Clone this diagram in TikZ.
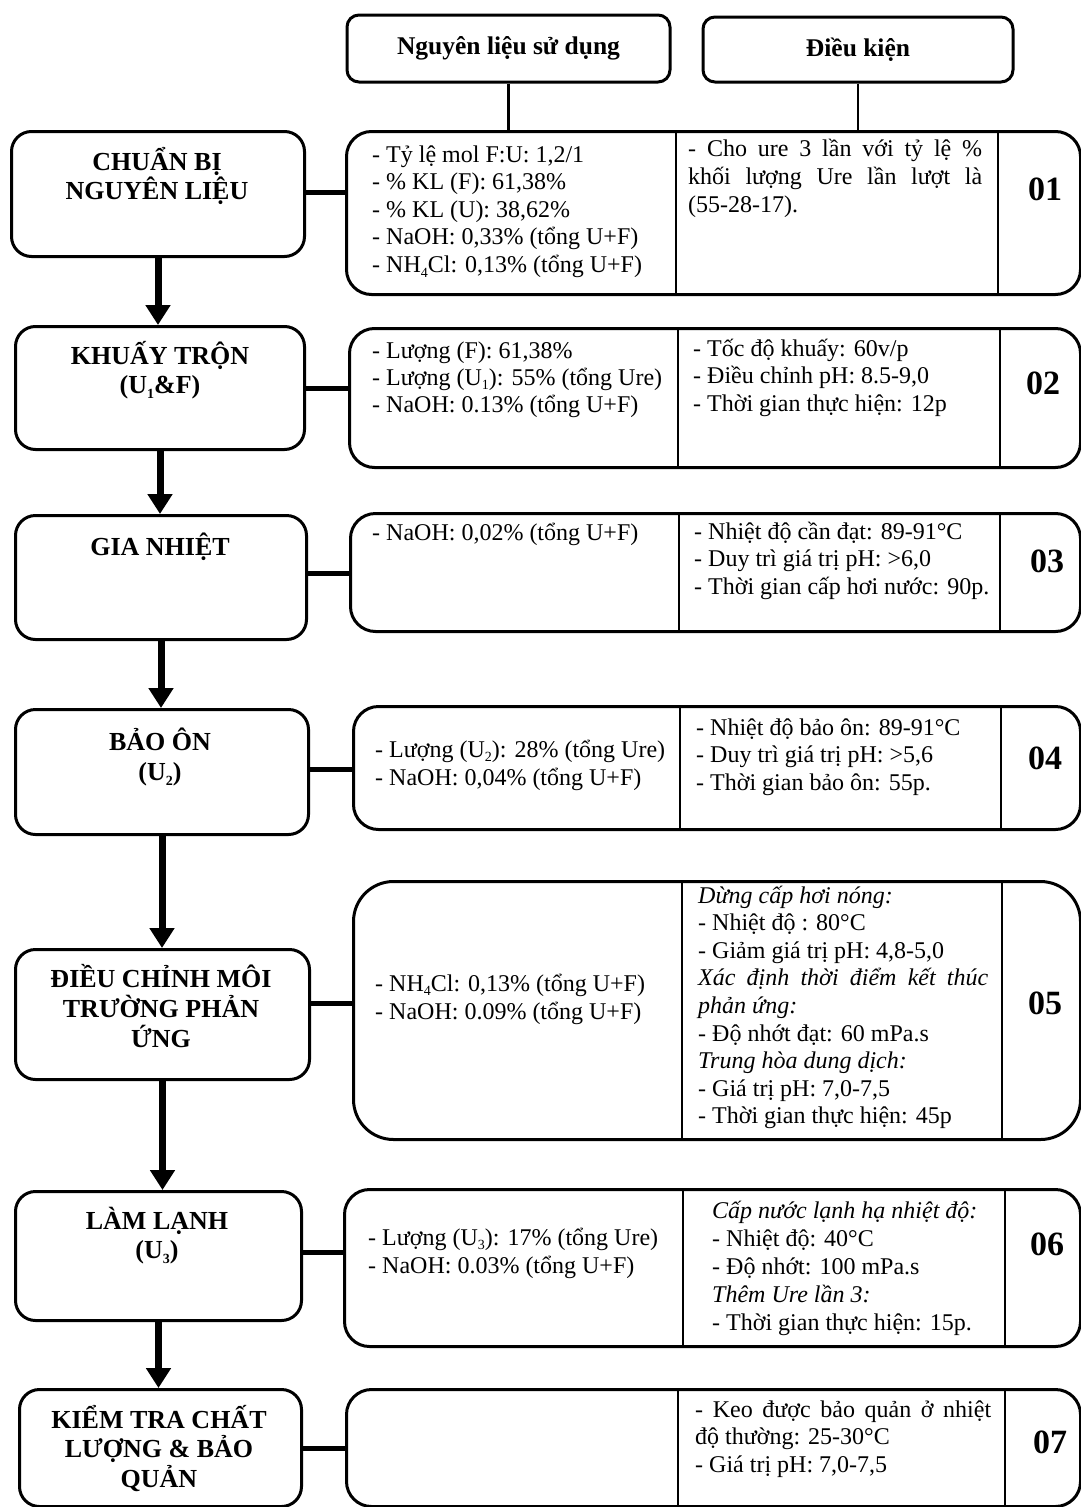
\documentclass[tikz,border=0pt]{standalone}
\usepackage{fontspec}
\setmainfont{Liberation Serif}
\usetikzlibrary{arrows.meta}
\newcommand\mysub[1]{\raisebox{-0.2em}{\fontsize{14}{14}\selectfont #1}}
\tikzset{
  ibox/.style={draw, line width=3pt, rounded corners=20pt, inner sep=0pt, anchor=north west},
  hbox/.style={draw, line width=3pt, rounded corners=12pt, inner sep=0pt, font=\bfseries\fontsize{25.5}{30}\selectfont},
  bbox/.style={draw, line width=3pt, rounded corners=25pt, inner sep=0pt, anchor=north west},
  divl/.style={line width=2pt},
  hline/.style={line width=2.5pt},
  conn/.style={line width=5pt},
  flow/.style={line width=7pt, -{Triangle[length=20pt,width=24pt]}},
  txt/.style={font=\fontsize{24}{28}\selectfont, inner sep=0pt, anchor=base west},
  ttl/.style={font=\bfseries\fontsize{26}{30}\selectfont, inner sep=0pt, anchor=base},
  num/.style={font=\bfseries\fontsize{34}{36}\selectfont, inner sep=0pt, anchor=base},
}
\begin{document}
\begin{tikzpicture}[x=1pt,y=-1pt]
\useasboundingbox (0,0) rectangle (1081,1507);
\fill[white] (0,0) rectangle (1081,1507);

% header boxes
\node[hbox, minimum width=323pt, minimum height=67pt] (H1) at (508.5,48.5) {Nguyên liệu sử dụng};
\node[hbox, minimum width=310pt, minimum height=65pt] (H2) at (858,49.5) {Điều kiện};

% left step boxes
\node[ibox, minimum width=293pt, minimum height=125pt] (L1) at (10,130) {};
\node[ibox, minimum width=289pt, minimum height=123pt] (L2) at (14,325) {};
\node[ibox, minimum width=291pt, minimum height=124pt] (L3) at (14,514) {};
\node[ibox, minimum width=293pt, minimum height=125pt] (L4) at (14,708) {};
\node[ibox, minimum width=294pt, minimum height=130pt] (L5) at (14,948) {};
\node[ibox, minimum width=286pt, minimum height=129pt] (L6) at (14,1190) {};
\node[ibox, minimum width=282pt, minimum height=117pt] (L7) at (18,1388) {};

% big boxes
\node[bbox, minimum width=734pt, minimum height=163pt] (B1) at (345,130) {};
\node[bbox, minimum width=731pt, minimum height=139pt] (B2) at (348,327) {};
\node[bbox, minimum width=730pt, minimum height=118pt] (B3) at (349,512) {};
\node[bbox, minimum width=727pt, minimum height=123pt] (B4) at (352,705) {};
\node[bbox, rounded corners=40pt, minimum width=727pt, minimum height=258pt] (B5) at (352,880) {};
\node[bbox, minimum width=736pt, minimum height=157pt] (B6) at (343,1188) {};
\node[bbox, minimum width=734pt, minimum height=117pt] (B7) at (345,1388) {};

% dividers
\draw[divl] (676,130) -- (676,293);  \draw[divl] (998,130) -- (998,293);
\draw[divl] (678,327) -- (678,466);  \draw[divl] (1000,327) -- (1000,466);
\draw[divl] (679,512) -- (679,630);  \draw[divl] (1000,512) -- (1000,630);
\draw[divl] (680,705) -- (680,828);  \draw[divl] (1001,705) -- (1001,828);
\draw[divl] (682,880) -- (682,1138); \draw[divl] (1002,880) -- (1002,1138);
\draw[divl] (683,1188) -- (683,1345); \draw[divl] (1005,1188) -- (1005,1345);
\draw[divl] (678,1388) -- (678,1505); \draw[divl] (1005,1388) -- (1005,1505);

% header connectors
\draw[hline] (H1.south) -- (H1.south |- B1.north);
\draw[hline] (H2.south) -- (H2.south |- B1.north);

% horizontal connectors
\draw[conn] ([yshift=2pt]L1.east) -- ([yshift=2pt]L1.east -| B1.west);
\draw[conn] (L2.east) -- (L2.east -| B2.west);
\draw[conn] ([yshift=4pt]L3.east) -- ([yshift=4pt]L3.east -| B3.west);
\draw[conn] ([yshift=3pt]L4.east) -- ([yshift=3pt]L4.east -| B4.west);
\draw[conn] ([yshift=11pt]L5.east) -- ([yshift=11pt]L5.east -| B5.west);
\draw[conn] ([yshift=4pt]L6.east) -- ([yshift=4pt]L6.east -| B6.west);
\draw[conn] (L7.east) -- (L7.east -| B7.west);

% flow arrows
\draw[flow] (L1.south) -- (L1.south |- L2.north);
\draw[flow] (L2.south) -- (L2.south |- L3.north);
\draw[flow] (L3.south) -- (L3.south |- L4.north);
\draw[flow] (L4.south) -- (L4.south |- L5.north);
\draw[flow] (L5.south) -- (L5.south |- L6.north);
\draw[flow] (L6.south) -- (L6.south |- L7.north);

% titles
\foreach \t [count=\i from 0] in {CHUẨN BỊ, NGUYÊN LIỆU}
  \node[ttl] (t1-\i) at (157,{170+29*\i}) {\t};
\foreach \t [count=\i from 0] in {KHUẤY TRỘN, (U\mysub{1}\&F)}
  \node[ttl] (t2-\i) at (160,{364+29*\i}) {\t};
\node[ttl] (t3-0) at (160,555) {GIA NHIỆT};
\foreach \t [count=\i from 0] in {BẢO ÔN, (U\mysub{2})}
  \node[ttl] (t4-\i) at (160,{750+30*\i}) {\t};
\foreach \t [count=\i from 0] in {ĐIỀU CHỈNH MÔI, TRƯỜNG PHẢN, ỨNG}
  \node[ttl] (t5-\i) at (161,{987+30*\i}) {\t};
\foreach \t [count=\i from 0] in {LÀM LẠNH, (U\mysub{3})}
  \node[ttl] (t6-\i) at (157,{1229+29*\i}) {\t};
\foreach \t [count=\i from 0] in {KIỂM TRA CHẤT, LƯỢNG \& BẢO, QUẢN}
  \node[ttl] (t7-\i) at (159,{1428+29.5*\i}) {\t};

% numbers
\node[num] (n1) at (1045,200) {01};
\node[num] (n2) at (1043,394) {02};
\node[num] (n3) at (1047,572) {03};
\node[num] (n4) at (1045,769) {04};
\node[num] (n5) at (1045,1014) {05};
\node[num] (n6) at (1047,1255) {06};
\node[num] (n7) at (1050,1453) {07};

% row 1
\foreach \t [count=\i from 0] in {{- Tỷ lệ mol F:U: 1,2/1},{- \% KL (F): 61,38\%},{- \% KL (U): 38,62\%},{- NaOH: 0,33\% (tổng U+F)},{- NH\mysub{4}Cl: 0,13\% (tổng U+F)}}
  \node[txt] (a1-\i) at (372,{162+27.6*\i}) {\t};
\foreach \t [count=\i from 0] in {{\makebox[294pt][s]{- Cho ure 3 lần với tỷ lệ \%}},{\makebox[294pt][s]{khối lượng Ure lần lượt là}},{(55-28-17).}}
  \node[txt] (b1-\i) at (688,{156+28*\i}) {\t};

% row 2
\foreach \t [count=\i from 0] in {{- Lượng (F): 61,38\%},{- Lượng (U\mysub{1}): 55\% (tổng Ure)},{- NaOH: 0.13\% (tổng U+F)}}
  \node[txt] (a2-\i) at (372,{358+27*\i}) {\t};
\foreach \t [count=\i from 0] in {{- Tốc độ khuấy: 60v/p},{- Điều chỉnh pH: 8.5-9,0},{- Thời gian thực hiện: 12p}}
  \node[txt] (b2-\i) at (693,{356+27.5*\i}) {\t};

% row 3
\node[txt] (a3-0) at (372,540) {- NaOH: 0,02\% (tổng U+F)};
\foreach \t [count=\i from 0] in {{- Nhiệt độ cần đạt: 89-91°C},{- Duy trì giá trị pH: >6,0},{- Thời gian cấp hơi nước: 90p.}}
  \node[txt] (b3-\i) at (694,{539+27.5*\i}) {\t};

% row 4
\foreach \t [count=\i from 0] in {{- Lượng (U\mysub{2}): 28\% (tổng Ure)},{- NaOH: 0,04\% (tổng U+F)}}
  \node[txt] (a4-\i) at (375,{757+28*\i}) {\t};
\foreach \t [count=\i from 0] in {{- Nhiệt độ bảo ôn: 89-91°C},{- Duy trì giá trị pH: >5,6},{- Thời gian bảo ôn: 55p.}}
  \node[txt] (b4-\i) at (696,{735+27.5*\i}) {\t};

% row 5
\foreach \t [count=\i from 0] in {{- NH\mysub{4}Cl: 0,13\% (tổng U+F)},{- NaOH: 0.09\% (tổng U+F)}}
  \node[txt] (a5-\i) at (375,{991+28*\i}) {\t};
\foreach \t [count=\i from 0] in {{\textit{Dừng cấp hơi nóng:}},{- Nhiệt độ : 80°C},{- Giảm giá trị pH: 4,8-5,0},{\makebox[290pt][s]{\itshape Xác định thời điểm kết thúc}},{\textit{phản ứng:}},{- Độ nhớt đạt: 60 mPa.s},{\textit{Trung hòa dung dịch:}},{- Giá trị pH: 7,0-7,5},{- Thời gian thực hiện: 45p}}
  \node[txt] (b5-\i) at (698,{903+27.6*\i}) {\t};

% row 6
\foreach \t [count=\i from 0] in {{- Lượng (U\mysub{3}): 17\% (tổng Ure)},{- NaOH: 0.03\% (tổng U+F)}}
  \node[txt] (a6-\i) at (368,{1245+28*\i}) {\t};
\foreach \t [count=\i from 0] in {{\textit{Cấp nước lạnh hạ nhiệt độ:}},{- Nhiệt độ: 40°C},{- Độ nhớt: 100 mPa.s},{\textit{Thêm Ure lần 3:}},{- Thời gian thực hiện: 15p.}}
  \node[txt] (b6-\i) at (712,{1218+28*\i}) {\t};

% row 7
\foreach \t [count=\i from 0] in {{\makebox[296pt][s]{- Keo được bảo quản ở nhiệt}},{độ thường: 25-30°C},{- Giá trị pH: 7,0-7,5}}
  \node[txt] (b7-\i) at (695,{1417+27.5*\i}) {\t};
\end{tikzpicture}
\end{document}
